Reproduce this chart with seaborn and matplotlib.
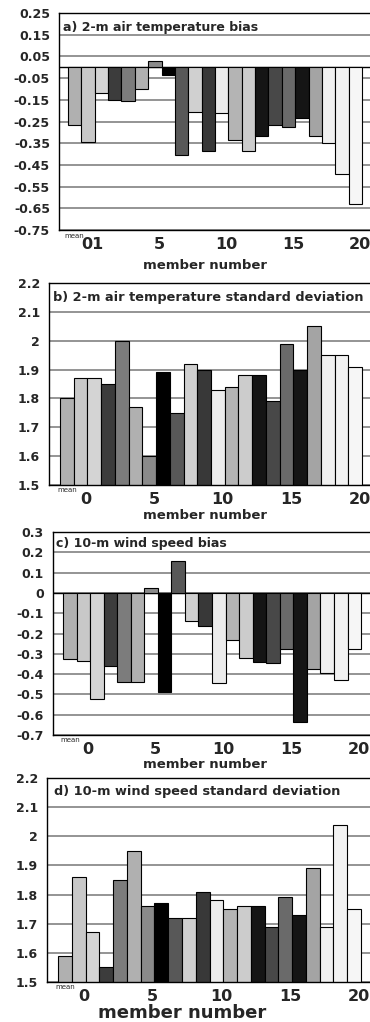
import matplotlib
matplotlib.use("Agg")
import matplotlib.pyplot as plt
import matplotlib.transforms as mtransforms
import pandas as pd
import seaborn as sns

# Ensemble members: the ensemble mean followed by members 0..20
members = ["mean"] + [str(i) for i in range(21)]

# One grey shade per member, shared by all four panels
bar_colors = [
    "#b0b0b0", "#c8c8c8", "#d4d4d4", "#3c3c3c", "#7c7c7c", "#b0b0b0",
    "#8a8a8a", "#000000", "#585858", "#d0d0d0", "#383838", "#ececec",
    "#b4b4b4", "#cccccc", "#151515", "#484848", "#6a6a6a", "#151515",
    "#a4a4a4", "#f0f0f0", "#f2f2f2", "#f6f6f6",
]

t2m_bias = [-0.265, -0.345, -0.12, -0.15, -0.155, -0.10, 0.03, -0.035,
            -0.405, -0.205, -0.385, -0.21, -0.335, -0.385, -0.315, -0.265,
            -0.275, -0.235, -0.318, -0.348, -0.49, -0.628]
t2m_std = [1.80, 1.87, 1.87, 1.85, 2.00, 1.77, 1.60, 1.89, 1.75, 1.92, 1.90,
           1.83, 1.84, 1.88, 1.88, 1.79, 1.99, 1.90, 2.05, 1.95, 1.95, 1.91]
ws_bias = [-0.325, -0.335, -0.525, -0.358, -0.437, -0.44, 0.022, -0.488,
           0.158, -0.14, -0.165, -0.442, -0.233, -0.32, -0.342, -0.346,
           -0.278, -0.635, -0.374, -0.394, -0.43, -0.276]
ws_std = [1.59, 1.86, 1.67, 1.55, 1.85, 1.95, 1.76, 1.77, 1.72, 1.72, 1.81,
          1.78, 1.75, 1.76, 1.76, 1.69, 1.79, 1.73, 1.89, 1.69, 2.04, 1.75]

member_ticks = [1, 6, 11, 16, 21]

sns.set_theme(style="white")
plt.rcParams["font.family"] = ["DejaVu Sans"]
plt.rcParams["font.weight"] = "bold"
plt.rcParams["axes.unicode_minus"] = False

W, H = 370, 1022
fig = plt.figure(figsize=(W / 100, H / 100), dpi=100)


def fmt(v):
    s = f"{v:.2f}".rstrip("0").rstrip(".")
    return "0" if s in ("-0", "0") else s


panels = [
    dict(values=t2m_bias, box=(59, 13, 230), ylim=(-0.75, 0.25),
         yticks=[0.25 - 0.1 * k for k in range(11)],
         xlim=(-1.17, 22.1), first="01",
         title="a) 2-m air temperature bias", title_xy=(63, 28), title_size=9,
         xlabel_xy=(205, 265), xlabel_size=9.5),
    dict(values=t2m_std, box=(49, 283, 485), ylim=(1.5, 2.2),
         yticks=[1.5 + 0.1 * k for k in range(8)],
         xlim=(-1.3, 22.08), first="0",
         title="b) 2-m air temperature standard deviation", title_xy=(53, 297),
         title_size=9.3, xlabel_xy=(205, 515), xlabel_size=9.5),
    dict(values=ws_bias, box=(53, 532, 735), ylim=(-0.7, 0.3),
         yticks=[-0.7 + 0.1 * k for k in range(11)],
         xlim=(-1.24, 22.16), first="0",
         title="c) 10-m wind speed bias", title_xy=(56, 543), title_size=9,
         xlabel_xy=(205, 765), xlabel_size=9.5),
    dict(values=ws_std, box=(47, 778, 982), ylim=(1.5, 2.2),
         yticks=[1.5 + 0.1 * k for k in range(8)],
         xlim=(-1.3, 22.15), first="0",
         title="d) 10-m wind speed standard deviation", title_xy=(54, 792),
         title_size=9.3, xlabel_xy=(182, 1013), xlabel_size=13),
]

for p in panels:
    left, top, bottom = p["box"]
    ax = fig.add_axes([left / W, 1 - bottom / H, (W - left) / W, (bottom - top) / H])
    df = pd.DataFrame({"member": members, "value": p["values"]})
    sns.barplot(data=df, x="member", y="value", hue="member", order=members,
                hue_order=members, palette=bar_colors, saturation=1,
                width=1.0, edgecolor="black", linewidth=0.8, legend=False,
                errorbar=None, ax=ax)
    ax.set_xlim(*p["xlim"])
    ax.set_ylim(*p["ylim"])

    yt = [round(v, 2) for v in p["yticks"]]
    ax.set_yticks(yt)
    ax.set_yticklabels([fmt(v) for v in yt], fontsize=9, fontweight="bold")
    ax.tick_params(axis="y", direction="out", length=4, width=1,
                   color="black", pad=2.5)
    ax.yaxis.grid(True, color="#777777", linewidth=1.1)
    ax.set_axisbelow(True)
    if p["ylim"][0] < 0 < p["ylim"][1]:
        ax.axhline(0, color="black", linewidth=1.0, zorder=0.9)

    ax.set_xticks([t + 0.35 for t in member_ticks])
    ax.set_xticklabels([p["first"], "5", "10", "15", "20"], fontsize=11.5,
                       fontweight="bold")
    ax.tick_params(axis="x", length=0, pad=5)
    trans = mtransforms.blended_transform_factory(ax.transData, ax.transAxes)
    ax.text(0, -0.012, "mean", transform=trans, ha="center", va="top",
            fontsize=5, fontweight="normal")

    ax.set_xlabel("member number", fontsize=p["xlabel_size"], fontweight="bold")
    lx, ly = p["xlabel_xy"]
    ax.xaxis.set_label_coords((lx - left) / (W - left),
                              (bottom - ly) / (bottom - top))
    ax.xaxis.label.set_va("center")
    ax.set_ylabel("")

    for side in ("left", "bottom", "top"):
        ax.spines[side].set_visible(True)
        ax.spines[side].set_color("black")
        ax.spines[side].set_linewidth(1.0)
    ax.spines["right"].set_visible(False)

    tx, ty = p["title_xy"]
    fig.text(tx / W, 1 - ty / H, p["title"], ha="left", va="center",
             fontsize=p["title_size"], fontweight="bold")

fig.savefig("out.png", dpi=100)
